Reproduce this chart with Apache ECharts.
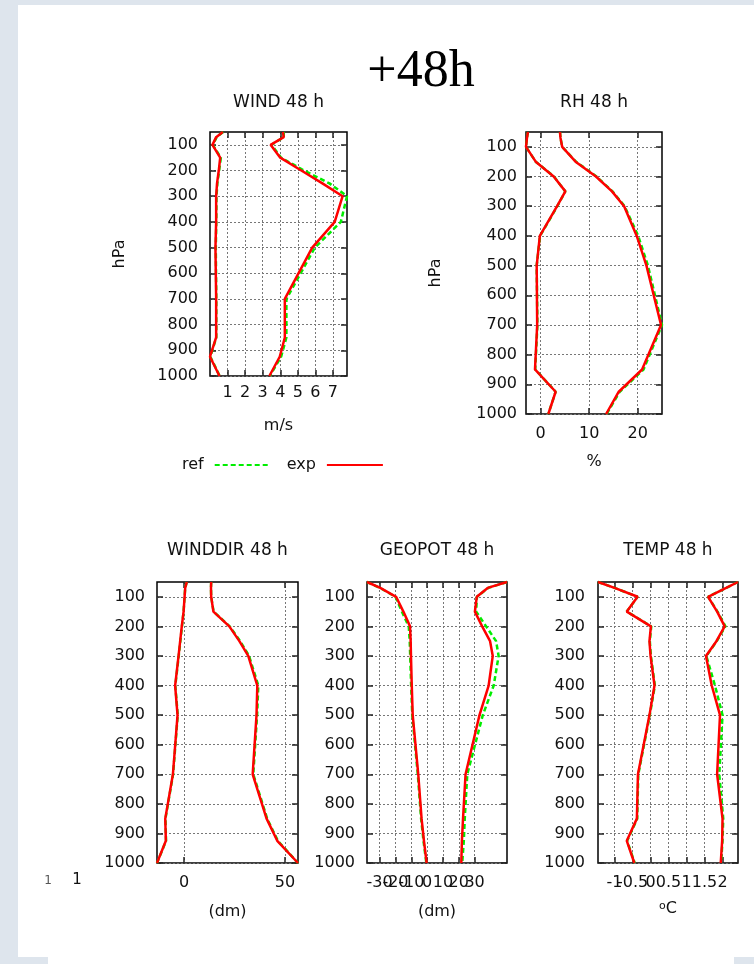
<!DOCTYPE html>
<html>
<head>
<meta charset="utf-8">
<script src="https://cdn.jsdelivr.net/npm/echarts@6/dist/echarts.min.js"></script>
<style>
  html, body { margin: 0; padding: 0; background: #dee5ed; }
  body { width: 754px; height: 964px; position: relative; overflow: hidden; }
  #page { position: absolute; left: 18px; top: 5px; width: 736px; height: 952px; background: #fff; }
  #strip { position: absolute; left: 48px; top: 957px; width: 686px; height: 7px; background: #fff; }
  #chart { position: absolute; left: 0; top: 0; width: 754px; height: 964px; }
</style>
</head>
<body>
<div id="page"></div>
<div id="strip"></div>
<div id="chart"></div>
<script>
// pressure levels (hPa) of the profiles
const levels = [50, 70, 100, 150, 200, 250, 300, 400, 500, 700, 850, 925, 1000]
const pressureTicks = [100, 200, 300, 400, 500, 600, 700, 800, 900, 1000]

// WIND (m/s)
const windTicks = [1, 2, 3, 4, 5, 6, 7]
const windBiasRef = [0.75, 0.38, 0.16, 0.62, 0.52, 0.42, 0.37, 0.36, 0.33, 0.36, 0.36, 0.02, 0.55]
const windBiasExp = [0.73, 0.35, 0.14, 0.58, 0.50, 0.40, 0.35, 0.35, 0.31, 0.35, 0.35, 0.0, 0.54]
const windRmsRef = [4.2, 4.2, 3.5, 4.05, 5.35, 6.8, 7.8, 7.45, 5.97, 4.35, 4.35, 4.05, 3.4]
const windRmsExp = [4.15, 4.2, 3.45, 4.0, 5.2, 6.4, 7.55, 7.1, 5.82, 4.26, 4.26, 3.97, 3.38]

// RH (%)
const rhTicks = [0, 10, 20]
const rhBiasRef = [-2.6, -2.8, -3.0, -1.0, 2.75, 5.1, 3.45, -0.1, -0.8, -0.65, -1.1, 3.1, 1.6]
const rhBiasExp = [-2.6, -2.8, -3.0, -1.0, 2.7, 5.1, 3.4, -0.15, -0.8, -0.7, -1.15, 3.1, 1.6]
const rhRmsRef = [4.0, 4.1, 4.45, 7.3, 11.5, 14.8, 17.3, 20.1, 22.1, 25.0, 21.2, 16.3, 13.6]
const rhRmsExp = [4.0, 4.1, 4.45, 7.2, 11.4, 14.7, 17.2, 19.8, 21.8, 24.8, 20.9, 16.1, 13.5]

// WINDDIR
const wdTicks = [0, 50]
const wdBiasRef = [1.3, 0.5, 0.2, -0.3, -1.1, -1.9, -2.7, -4.4, -3.2, -5.5, -9.3, -9.0, -13.5]
const wdBiasExp = [1.3, 0.5, 0.2, -0.3, -1.2, -2.0, -2.8, -4.5, -3.3, -5.6, -9.4, -9.1, -13.5]
const wdRmsRef = [13.4, 13.3, 13.4, 14.6, 22.6, 27.8, 32.2, 36.8, 36.2, 34.3, 41.2, 46.5, 56.5]
const wdRmsExp = [13.4, 13.3, 13.4, 14.5, 22.4, 27.4, 31.8, 36.3, 35.9, 34.0, 40.9, 46.2, 56.5]

// GEOPOT (dm)
const gpTicks = [-30, -20, -10, 0, 10, 20, 30]
const gpBiasRef = [-38, -29.8, -20.0, -16.0, -11.6, -11.0, -10.7, -10.1, -9.4, -5.9, -3.8, -2.3, -0.5]
const gpBiasExp = [-38, -29.6, -19.6, -15.0, -10.8, -10.4, -10.2, -9.7, -9.1, -5.6, -3.5, -2.0, -0.3]
const gpRmsRef = [50.5, 38.6, 31.5, 31.0, 37.3, 43.6, 45.2, 42.1, 35.2, 25.4, 23.8, 23.2, 22.2]
const gpRmsExp = [50.5, 38.3, 31.4, 30.2, 34.8, 39.8, 41.5, 38.9, 33.1, 24.3, 22.7, 22.0, 21.6]

// TEMP (oC)
const tTicks = [-1, -0.5, 0, 0.5, 1, 1.5, 2]
const tBiasRef = [-1.46, -1.0, -0.36, -0.66, 0.02, -0.02, 0.01, 0.12, -0.02, -0.34, -0.37, -0.65, -0.44]
const tBiasExp = [-1.46, -1.0, -0.36, -0.66, 0.01, -0.03, 0.0, 0.11, -0.03, -0.35, -0.38, -0.66, -0.45]
const tRmsRef = [2.43, 2.1, 1.6, 1.86, 2.08, 1.84, 1.55, 1.79, 2.0, 1.91, 2.02, 2.0, 1.96]
const tRmsExp = [2.43, 2.1, 1.6, 1.85, 2.06, 1.83, 1.54, 1.7, 1.93, 1.85, 2.0, 1.99, 1.95]

const FONT = 'DejaVu Sans'
const INK = '#111'

const panels = [
  { title: 'WIND 48 h', xName: 'm/s', yName: 'hPa', min: 0, max: 7.8, ticks: windTicks,
    ref: [windBiasRef, windRmsRef], exp: [windBiasExp, windRmsExp],
    box: [210, 132, 137, 244], xLabelGap: 9, yLabelGap: 12, nameGap: 42 },
  { title: 'RH 48 h', xName: '%', yName: 'hPa', min: -3, max: 25, ticks: rhTicks,
    ref: [rhBiasRef, rhRmsRef], exp: [rhBiasExp, rhRmsExp],
    box: [526, 132, 136, 282], xLabelGap: 12, yLabelGap: 9, nameGap: 40 },
  { title: 'WINDDIR 48 h', xName: '(dm)', min: -13.5, max: 56.5, ticks: wdTicks,
    ref: [wdBiasRef, wdRmsRef], exp: [wdBiasExp, wdRmsExp],
    box: [157, 582, 141, 281], xLabelGap: 12, yLabelGap: 12, nameGap: 41 },
  { title: 'GEOPOT 48 h', xName: '(dm)', min: -38, max: 50.5, ticks: gpTicks,
    ref: [gpBiasRef, gpRmsRef], exp: [gpBiasExp, gpRmsExp],
    box: [367, 582, 140, 281], xLabelGap: 12, yLabelGap: 12, nameGap: 41 },
  { title: 'TEMP 48 h', xName: '{o|o}C', min: -1.46, max: 2.43, ticks: tTicks,
    ref: [tBiasRef, tRmsRef], exp: [tBiasExp, tRmsExp],
    box: [598, 582, 140, 281], xLabelGap: 12, yLabelGap: 13, nameGap: 38 }
]

const grids = []
const xAxes = []
const yAxes = []
const series = []
const graphics = [
  { type: 'text', x: 421, y: 72, style: { text: '+48h', font: '52px "Liberation Serif"', fill: '#000', align: 'center', verticalAlign: 'middle' } },
  { type: 'text', x: 48, y: 881, style: { text: '1', font: '12px "' + FONT + '"', fill: '#555', align: 'center', verticalAlign: 'middle' } },
  { type: 'text', x: 77, y: 880, style: { text: '1', font: '15px "' + FONT + '"', fill: INK, align: 'center', verticalAlign: 'middle' } }
]

const tickStyle = { inside: true, length: 6, lineStyle: { color: '#222', width: 1.5 } }
const gridLine = { show: true, lineStyle: { type: [2, 2], color: '#777', width: 1 } }
const noLine = { show: false, onZero: false }
const labelFont = { fontFamily: FONT, fontSize: 16, color: INK }

panels.forEach((p, i) => {
  const [left, top, width, height] = p.box
  grids.push({ left, top, width, height, show: true, borderColor: '#000', borderWidth: 1.5, containLabel: false })
  graphics.push({ type: 'text', x: left + width / 2, y: top - (i < 2 ? 29 : 31),
    style: { text: p.title, font: '17px "' + FONT + '"', fill: INK, align: 'center', verticalAlign: 'middle' } })

  // echarts hides overlapping labels, so alternate labels go on a second bottom axis
  const evenTicks = p.ticks.filter((t, k) => k % 2 === 0)
  const oddTicks = p.ticks.filter((t, k) => k % 2 === 1)

  xAxes.push({
    type: 'value', gridIndex: i, position: 'bottom', min: p.min, max: p.max,
    axisLine: noLine,
    axisTick: { ...tickStyle, customValues: p.ticks },
    axisLabel: { ...labelFont, customValues: evenTicks, margin: p.xLabelGap, showMinLabel: true, showMaxLabel: true },
    splitLine: gridLine,
    name: p.xName, nameLocation: 'middle', nameGap: p.nameGap,
    nameTextStyle: { ...labelFont, rich: { o: { fontFamily: FONT, fontSize: 11, color: INK, verticalAlign: 'top' } } }
  })
  xAxes.push({
    type: 'value', gridIndex: i, position: 'bottom', offset: 0, min: p.min, max: p.max,
    axisLine: noLine,
    axisTick: { show: false, customValues: oddTicks.length ? oddTicks : [p.min] },
    axisLabel: { ...labelFont, show: oddTicks.length > 0, customValues: oddTicks.length ? oddTicks : [p.min],
      margin: p.xLabelGap, showMinLabel: true, showMaxLabel: true },
    splitLine: { show: false }
  })
  xAxes.push({
    type: 'value', gridIndex: i, position: 'top', min: p.min, max: p.max,
    axisLine: noLine,
    axisTick: { ...tickStyle, customValues: p.ticks },
    axisLabel: { show: false },
    splitLine: { show: false }
  })
  yAxes.push({
    type: 'value', gridIndex: i, position: 'left', inverse: true, min: 50, max: 1000,
    axisLine: noLine,
    axisTick: { ...tickStyle, customValues: pressureTicks },
    axisLabel: { ...labelFont, customValues: pressureTicks, margin: p.yLabelGap,
      showMinLabel: true, showMaxLabel: true, formatter: v => String(v) },
    splitLine: gridLine,
    name: p.yName || '', nameLocation: 'middle', nameRotate: 90, nameGap: 82,
    nameTextStyle: labelFont
  })
  yAxes.push({
    type: 'value', gridIndex: i, position: 'right', inverse: true, min: 50, max: 1000,
    axisLine: noLine,
    axisTick: { ...tickStyle, customValues: pressureTicks },
    axisLabel: { show: false },
    splitLine: { show: false }
  })

  const toPoints = vals => levels.map((lev, k) => [vals[k], lev])
  p.ref.forEach(vals => series.push({
    name: 'ref', type: 'line', xAxisIndex: 3 * i, yAxisIndex: 2 * i,
    data: toPoints(vals), symbol: 'none', clip: false, z: 2,
    itemStyle: { color: '#00ee00' },
    lineStyle: { color: '#00ee00', width: 2.5, type: [5, 3] }
  }))
  p.exp.forEach(vals => series.push({
    name: 'exp', type: 'line', xAxisIndex: 3 * i, yAxisIndex: 2 * i,
    data: toPoints(vals), symbol: 'none', clip: false, z: 3,
    itemStyle: { color: '#ff0000' },
    lineStyle: { color: '#ff0000', width: 2.5 }
  }))
})

const chart = echarts.init(document.getElementById('chart'))
chart.setOption({
  animation: false,
  legend: {
    data: ['ref', 'exp'],
    left: 177, top: 452,
    align: 'right',
    itemWidth: 56, itemHeight: 14, itemGap: 15,
    itemStyle: { opacity: 0 },
    textStyle: { fontFamily: FONT, fontSize: 16, color: INK, padding: [0, 6, 0, 0] }
  },
  grid: grids,
  xAxis: xAxes,
  yAxis: yAxes,
  series: series,
  graphic: graphics
})
</script>
</body>
</html>
